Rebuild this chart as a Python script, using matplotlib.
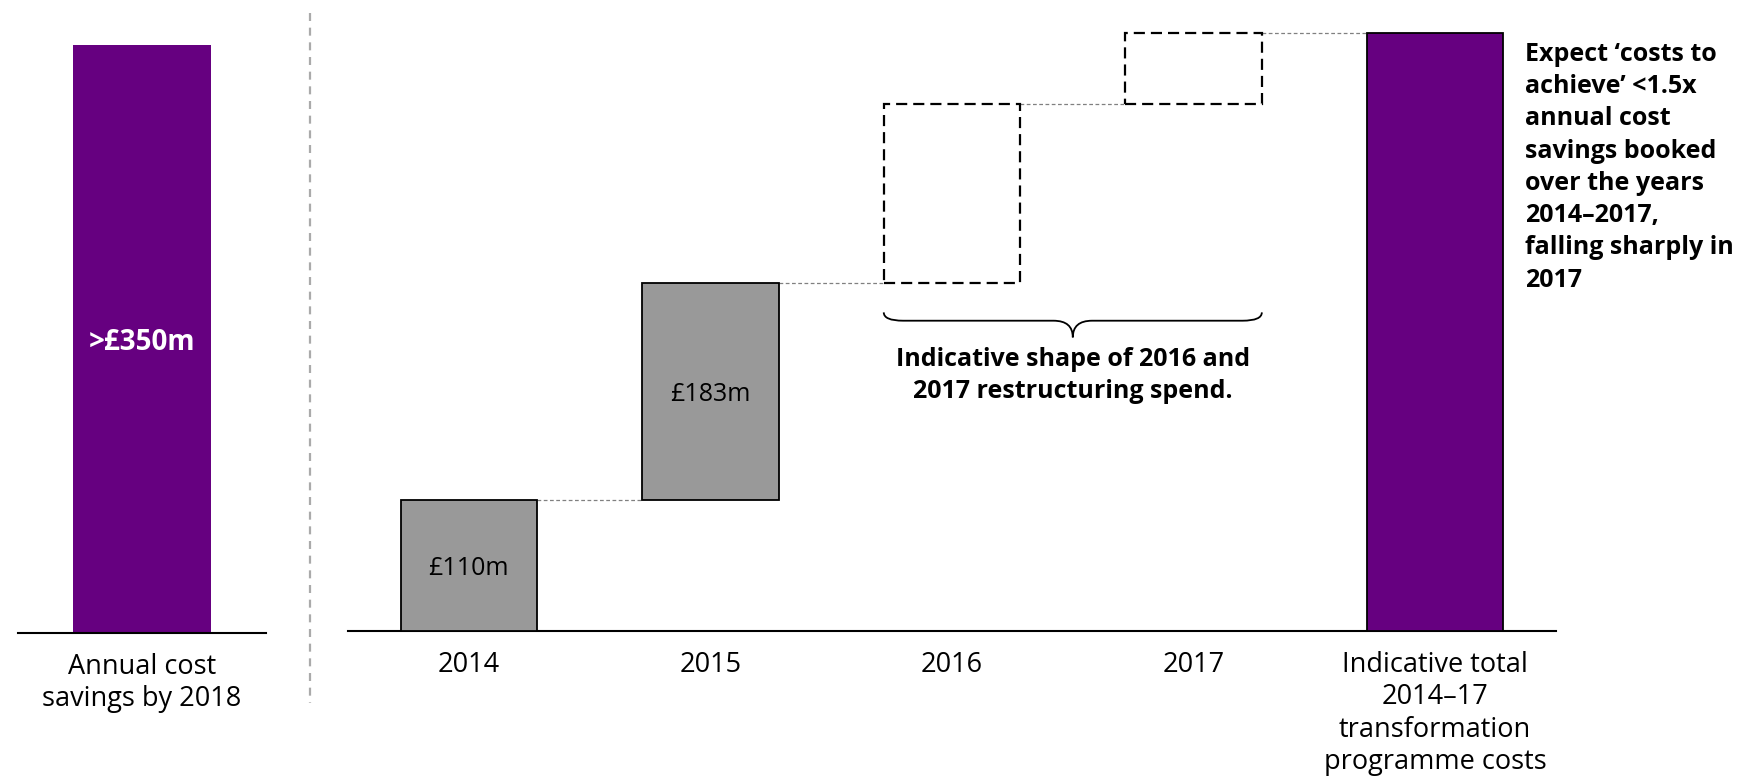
import matplotlib
matplotlib.use("Agg")
import matplotlib.pyplot as plt
from matplotlib.lines import Line2D
from matplotlib.path import Path
from matplotlib.patches import PathPatch

# ---- data -------------------------------------------------------------
years = ["2014", "2015", "2016", "2017"]
spend = [110, 183, 150, 60]                  # restructuring spend, £m
spend_labels = ["£110m", "£183m", None, None]
indicative = [False, False, True, True]      # 2016/17 shown as outline only
total_label = "Indicative total\n2014–17\ntransformation\nprogramme costs"

savings_value = 350
savings_label = ">£350m"
savings_category = "Annual cost\nsavings by 2018"

brace_note = "Indicative shape of 2016 and\n2017 restructuring spend."
side_note = ("Expect ‘costs to\nachieve’ <1.5x\nannual cost\nsavings booked\n"
             "over the years\n2014–2017,\nfalling sharply in\n2017")

# ---- style ------------------------------------------------------------
PURPLE = "#660080"
GREY = "#999999"
FONT = "Open Sans"
plt.rcParams["font.family"] = [FONT, "DejaVu Sans"]
LABEL_SIZE = 19.5
NOTE_SIZE = 18
LABEL_SPACING = 1.2

W, H = 1749, 778
fig = plt.figure(figsize=(W / 100, H / 100), dpi=100)


def box(x0, y0, x1, y1):
    """Axes rectangle from pixel edges (top-left origin)."""
    return [x0 / W, 1 - y1 / H, (x1 - x0) / W, (y1 - y0) / H]


# ---- left panel: annual savings -----------------------------------------
axl = fig.add_axes(box(18, 45, 266, 633))
axl.bar([0], [savings_value], width=0.556, color=PURPLE, linewidth=0)
axl.set_xlim(-0.5, 0.5)
axl.set_ylim(0, savings_value)
axl.text(0, savings_value / 2, savings_label, ha="center", va="center_baseline",
         color="white", fontsize=20, fontweight="bold")
axl.set_xticks([0], [savings_category])
axl.tick_params(axis="x", length=0, pad=14.5, labelsize=LABEL_SIZE)
axl.tick_params(axis="y", left=False, labelleft=False)
for s in ("top", "left", "right"):
    axl.spines[s].set_visible(False)
axl.spines["bottom"].set_linewidth(1.5)
for t in axl.get_xticklabels():
    t.set_linespacing(LABEL_SPACING)

# divider between the two panels
fig.add_artist(Line2D([310 / W, 310 / W], [1 - 13 / H, 1 - 703 / H],
                      color="#aaaaaa", lw=1.6, linestyle=(0, (3.6, 3.0))))

# ---- main panel: waterfall ------------------------------------------------
ax = fig.add_axes(box(348, 33, 1556, 631))
bw = 0.565
bottoms, tops = [], []
running = 0
for v in spend:
    bottoms.append(running)
    running += v
    tops.append(running)
total = running

for i, (v, b, dashed) in enumerate(zip(spend, bottoms, indicative)):
    if dashed:
        ax.bar(i, v, bottom=b, width=bw, fill=False, edgecolor="black",
               linewidth=1.6, linestyle=(0, (5, 2.7)), zorder=3, clip_on=False)
    else:
        ax.bar(i, v, bottom=b, width=bw, color=GREY, edgecolor="black",
               linewidth=1.3, zorder=3, clip_on=False)
    if spend_labels[i]:
        ax.text(i, b + v / 2, spend_labels[i], ha="center",
                va="center_baseline", fontsize=18, color="black", zorder=4)

n = len(spend)
ax.bar(n, total, width=bw, color=PURPLE, edgecolor="black", linewidth=1.3,
       zorder=3, clip_on=False)

# connectors between consecutive steps
for i in range(n):
    ax.plot([i + bw / 2, i + 1 - bw / 2], [tops[i], tops[i]], color="#808080",
            lw=0.9, linestyle=(0, (3, 2)), zorder=2, clip_on=False)

ax.set_xlim(-0.5, n + 0.5)
ax.set_ylim(0, total)
ax.set_xticks(range(n + 1), years + [total_label])
ax.tick_params(axis="x", length=0, pad=14.5, labelsize=LABEL_SIZE)
ax.tick_params(axis="y", left=False, labelleft=False)
for t in ax.get_xticklabels():
    t.set_linespacing(LABEL_SPACING)
    t.set_verticalalignment("top")
for s in ("top", "left", "right"):
    ax.spines[s].set_visible(False)
ax.spines["bottom"].set_linewidth(1.5)

# curly brace under the indicative years
i0 = indicative.index(True)
x0, x1 = i0 - bw / 2, n - 1 + bw / 2
xc = (x0 + x1) / 2
base = bottoms[i0]
yt, ym, yb = base - 25, base - 32, base - 46
r = 0.08
verts = [(x0, yt), (x0, ym), (x0 + r, ym),
         (xc - r, ym), (xc, ym), (xc, yb),
         (xc, ym), (xc + r, ym),
         (x1 - r, ym), (x1, ym), (x1, yt)]
codes = [Path.MOVETO, Path.CURVE3, Path.CURVE3,
         Path.LINETO, Path.CURVE3, Path.CURVE3,
         Path.CURVE3, Path.CURVE3,
         Path.LINETO, Path.CURVE3, Path.CURVE3]
ax.add_patch(PathPatch(Path(verts, codes), fill=False, edgecolor="black",
                       lw=1.3, clip_on=False, zorder=3))
ax.text(xc, base - 54, brace_note, ha="center", va="top", fontsize=NOTE_SIZE,
        fontweight="bold", linespacing=1.36, color="black")

# side commentary
fig.text(1525 / W, 1 - 42 / H, side_note, ha="left", va="top",
         fontsize=NOTE_SIZE, fontweight="bold", linespacing=1.38,
         color="black")

fig.savefig("out.png", dpi=100)
